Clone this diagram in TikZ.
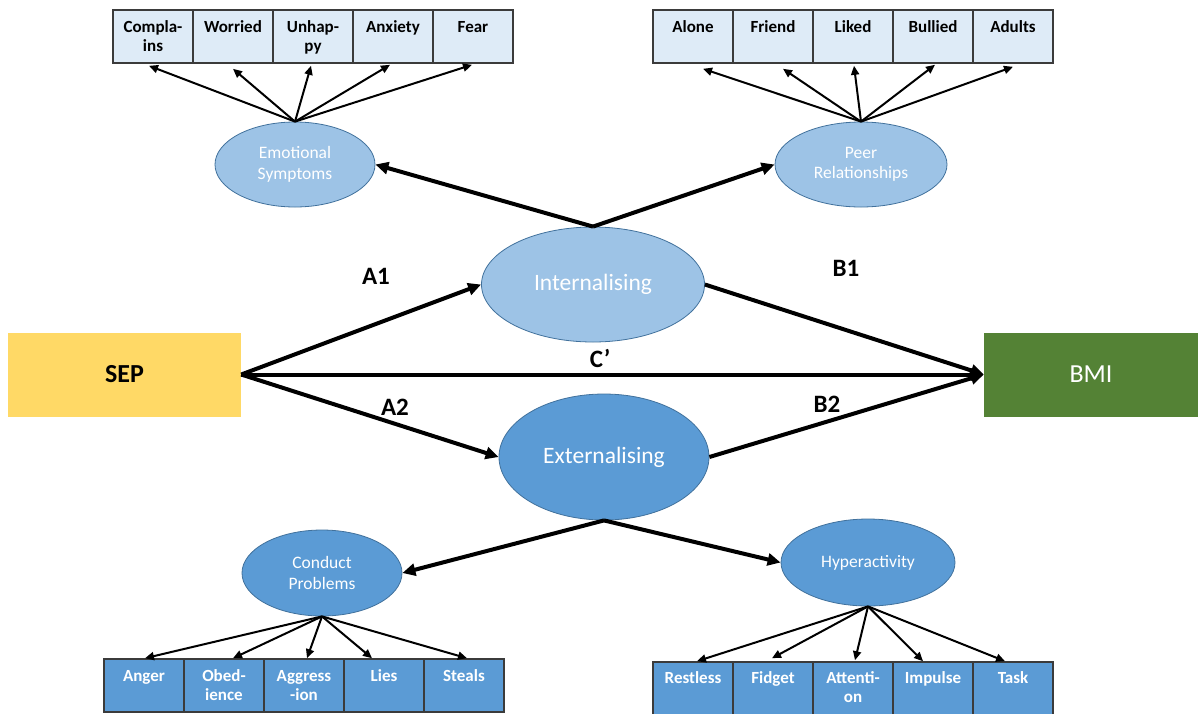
\documentclass[tikz,border=0pt]{standalone}
\usepackage{fontspec}
\setmainfont{Carlito}
\usetikzlibrary{arrows.meta,shapes.geometric,calc}

\definecolor{ltfill}{HTML}{DEEBF7}
\definecolor{dkfill}{HTML}{5B9BD5}
\definecolor{ltell}{HTML}{9DC3E6}
\definecolor{ellline}{HTML}{41719C}
\definecolor{boxline}{HTML}{3B3B3B}
\definecolor{sepfill}{HTML}{FFD966}
\definecolor{bmifill}{HTML}{548235}

\begin{document}
\begin{tikzpicture}[x=1pt,y=-1pt,
  indbox/.style={draw=boxline, line width=1.6pt, minimum width=80pt, minimum height=53pt, inner sep=0pt},
  indlt/.style={indbox, fill=ltfill},
  inddk/.style={indbox, fill=dkfill},
  indtext/.style={anchor=base, inner sep=0pt, font=\fontsize{17}{19.4}\selectfont\bfseries},
  latent/.style={ellipse, draw=ellline, line width=0.8pt, inner sep=0pt, align=center,
    text=white, font=\fontsize{17.5}{20.5}\selectfont},
  factor/.style={ellipse, draw=ellline, line width=0.8pt, inner sep=0pt, align=center,
    text=white, font=\fontsize{23.5}{28}\selectfont},
  endbox/.style={rectangle, inner sep=0pt, minimum width=#1, minimum height=84pt,
    font=\fontsize{26}{30}\selectfont},
  pathlabel/.style={inner sep=0pt, font=\fontsize{25}{30}\selectfont\bfseries},
  patharrow/.style={line width=4pt, -{Triangle[length=13pt,width=12pt]}},
  indarrow/.style={line width=2pt, -{Triangle[length=9pt,width=8pt]}}
]
\useasboundingbox (0,0) rectangle (1198,713);

% exogenous and outcome variables
\node[endbox=233pt, fill=sepfill, font=\fontsize{26}{30}\selectfont\bfseries] (sep) at (124.5,374.5) {SEP};
\node[endbox=214pt, fill=bmifill, text=white] (bmi) at (1091,374.5) {BMI};

% mediators
\node[factor, fill=ltell, minimum width=223pt, minimum height=115pt] (int) at (593,284.5) {Internalising};
\node[factor, fill=dkfill, minimum width=210pt, minimum height=126pt] (ext) at (604,457) {Externalising};

% subscales
\node[latent, fill=ltell, minimum width=160pt, minimum height=85pt] (emo) at (295,164.5) {Emotional\\Symptoms};
\node[latent, fill=ltell, minimum width=172pt, minimum height=85pt] (peer) at (861,164.5) {Peer\\Relationships};
\node[latent, fill=dkfill, minimum width=160pt, minimum height=86pt] (con) at (322,573) {Conduct\\Problems};
\node[latent, fill=dkfill, minimum width=174pt, minimum height=87pt] (hyp) at (868,562.5) {Hyperactivity};

% indicator items
\foreach \lab [count=\i] in {{Compla-\\ins},Worried,{Unhap-\\py},Anxiety,Fear}{
  \node[indlt] (e\i) at ({73+80*\i},36.5) {};
  \node[indtext] (et\i) at ({73+80*\i},32) {\parbox[t]{78pt}{\centering\lab}};
}
\foreach \lab [count=\i] in {Alone,Friend,Liked,Bullied,Adults}{
  \node[indlt] (p\i) at ({613+80*\i},36.5) {};
  \node[indtext] (pt\i) at ({613+80*\i},32) {\parbox[t]{78pt}{\centering\lab}};
}
\foreach \lab [count=\i] in {Anger,{Obed-\\ience},{Aggress\\-ion},Lies,Steals}{
  \node[inddk] (c\i) at ({64+80*\i},685.5) {};
  \node[indtext, text=white] (ct\i) at ({64+80*\i},681) {\parbox[t]{78pt}{\centering\lab}};
}
\foreach \lab [count=\i] in {Restless,Fidget,{Attenti-\\on},Impulse,Task}{
  \node[inddk] (h\i) at ({613+80*\i},688.5) {};
  \node[indtext, text=white] (ht\i) at ({613+80*\i},683.5) {\parbox[t]{78pt}{\centering\lab}};
}

% structural paths
\draw[patharrow] (sep.east) -- (int.west);
\draw[patharrow] (sep.east) -- (ext.west);
\draw[patharrow] (sep.east) -- (bmi.west);
\draw[patharrow] (int.east) -- (bmi.west);
\draw[patharrow] (ext.east) -- (bmi.west);
\draw[patharrow] (int.north) -- (emo.east);
\draw[patharrow] (int.north) -- (peer.west);
\draw[patharrow] (ext.south) -- (con.east);
\draw[patharrow] (ext.south) -- (hyp.west);

% loadings
\foreach \i/\dx/\dy in {1/-4/2,2/0/5,3/-2/2,4/-3/1,5/-1/1}
  \draw[indarrow] (emo.north) -- ($(e\i.south)+(\dx,\dy)$);
\foreach \i/\dx/\dy in {1/10/5,2/10/5,3/1/2,4/2/1,5/0/3}
  \draw[indarrow] (peer.north) -- ($(p\i.south)+(\dx,\dy)$);
\foreach \i/\dx in {1/1,2/9,3/3,4/-12,5/3}
  \draw[indarrow] (con.south) -- ($(c\i.north)+(\dx,0)$);
\foreach \i/\dx/\dy in {1/4/0,2/-1/-3,3/2/-1,4/-10/0,5/-8/0}
  \draw[indarrow] (hyp.south) -- ($(h\i.north)+(\dx,\dy)$);

% path labels
\node[pathlabel] (la1) at (376,276) {A1};
\node[pathlabel] (la2) at (395,407) {A2};
\node[pathlabel] (lc) at (600,358) {C’};
\node[pathlabel] (lb1) at (846,268) {B1};
\node[pathlabel] (lb2) at (827,404) {B2};
\end{tikzpicture}
\end{document}
